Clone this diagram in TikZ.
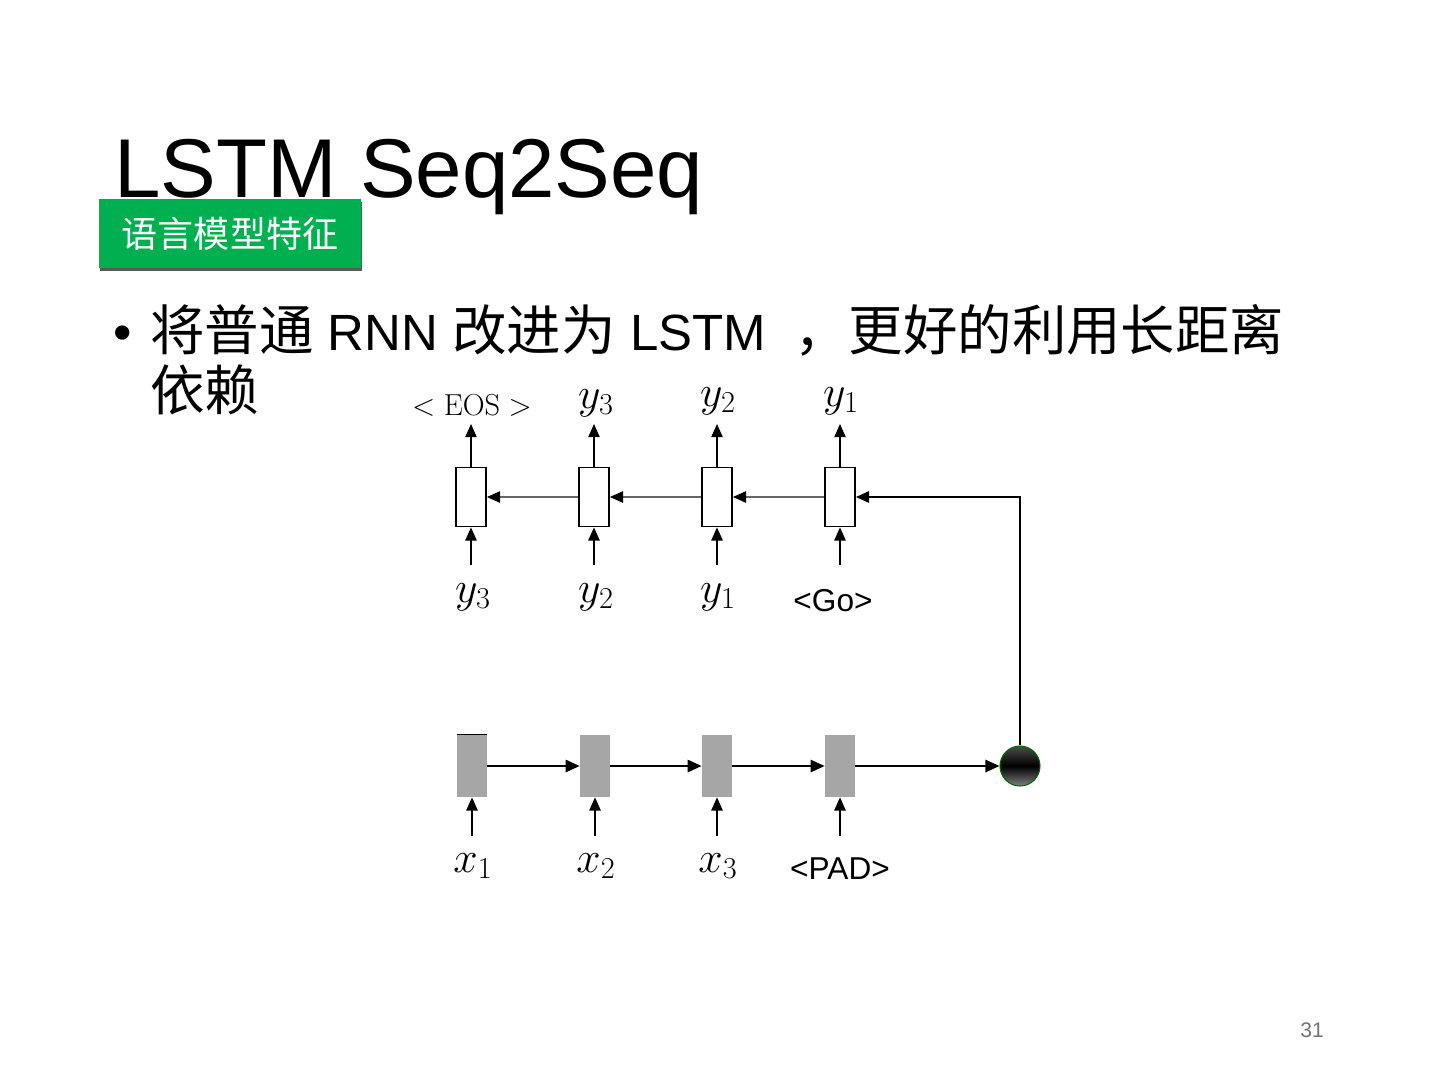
\documentclass[tikz,border=0pt]{standalone}
\usepackage[no-math]{fontspec}
\setmainfont{Liberation Sans}
\newfontfamily\cjk{Noto Sans CJK SC}
\usetikzlibrary{arrows.meta,shadows}
\definecolor{taggreen}{RGB}{0,176,80}
\definecolor{encgray}{RGB}{166,166,166}
\tikzset{
  arr/.style={line width=0.7pt,-{Triangle[length=7.5pt,width=6.5pt]}},
  garr/.style={line width=0.6pt,draw=black!60,-{Triangle[length=7.5pt,width=6.5pt,color=black]}},
  earr/.style={line width=1.1pt,-{Triangle[length=8pt,width=7pt]}},
  decbox/.style={draw,line width=1pt,fill=white,minimum width=0.6cm,minimum height=1.18cm,inner sep=0pt},
  encbox/.style={fill=encgray,minimum width=0.6cm,minimum height=1.24cm,inner sep=0pt},
  lbl/.style={font=\fontsize{18}{20}\selectfont,inner sep=0pt},
  mlbl/.style={font=\fontsize{23}{26}\selectfont,inner sep=0pt},
}
\begin{document}
\begin{tikzpicture}[x=0.02cm,y=-0.02cm]
\useasboundingbox (0,0) rectangle (1440,1080);
% title
\node[anchor=base west,inner sep=0pt,font=\fontsize{47.5}{55}\selectfont] (title) at (114,197) {LSTM Seq2Seq};
% tag
\node[fill=taggreen,text=white,minimum width=5.24cm,minimum height=1.38cm,inner sep=0pt,
  drop shadow={shadow xshift=0.02cm,shadow yshift=-0.06cm,fill=black!65,opacity=1},
  font=\cjk\fontsize{20.5}{22}\selectfont] (tag) at (230,233.5) {语言模型特征};
% bullet text
\node[anchor=base west,inner sep=0pt,font=\fontsize{30}{34}\selectfont] (bul) at (113,350) {•};
\node[anchor=base west,inner sep=0pt,font=\fontsize{29}{34}\selectfont] (line1) at (150,350)
  {{\cjk\fontsize{31}{34}\selectfont 将普通} RNN {\cjk\fontsize{31}{34}\selectfont 改进为} LSTM \ {\cjk\fontsize{31}{34}\selectfont ，更好的利用长距离}};
\node[anchor=base west,inner sep=0pt,font=\cjk\fontsize{31}{34}\selectfont] (line2) at (150,410) {依赖};
% decoder
\node[decbox] (d1) at (471,497) {};
\node[decbox] (d2) at (594,497) {};
\node[decbox] (d3) at (717,497) {};
\node[decbox] (d4) at (840,497) {};
% decoder outputs
\node[lbl] (o1) at (472,406) {$<\mathrm{EOS}>$};
\node[mlbl] (o2) at (596,403) {$y_3$};
\node[mlbl] (o3) at (718,401) {$y_2$};
\node[mlbl] (o4) at (841,401) {$y_1$};
\coordinate (t1) at (471,424);
\coordinate (t2) at (594,424);
\coordinate (t3) at (717,424);
\coordinate (t4) at (840,424);
\draw[arr] (d1.north) -- (t1);
\draw[arr] (d2.north) -- (t2);
\draw[arr] (d3.north) -- (t3);
\draw[arr] (d4.north) -- (t4);
% decoder inputs
\node[mlbl] (i1) at (473,597) {$y_3$};
\node[mlbl] (i2) at (596,597) {$y_2$};
\node[mlbl] (i3) at (718,597) {$y_1$};
\node[lbl] (i4) at (833,601) {<Go>};
\coordinate (s1) at (471,565);
\coordinate (s2) at (594,565);
\coordinate (s3) at (717,565);
\coordinate (s4) at (840,565);
\draw[arr] (s1) -- (d1.south);
\draw[arr] (s2) -- (d2.south);
\draw[arr] (s3) -- (d3.south);
\draw[arr] (s4) -- (d4.south);
% decoder recurrence
\draw[garr] (d2.west) -- (d1.east);
\draw[garr] (d3.west) -- (d2.east);
\draw[garr] (d4.west) -- (d3.east);
% encoder
\node[encbox] (e1) at (472,766) {};
\node[encbox] (e2) at (595,766) {};
\node[encbox] (e3) at (717,766) {};
\node[encbox] (e4) at (840,766) {};
\draw[line width=0.8pt] (e1.north west) -- (e1.north east);
\node[circle,minimum size=0.8cm,inner sep=0pt,draw=green!40!black,line width=0.6pt,
  top color=black!70,bottom color=black!50,middle color=black] (c) at (1020,766) {};
\draw[earr] (e1.east) -- (e2.west);
\draw[earr] (e2.east) -- (e3.west);
\draw[earr] (e3.east) -- (e4.west);
\draw[earr] (e4.east) -- (c.west);
% encoder inputs
\node[mlbl] (x1) at (473,866) {$x_1$};
\node[mlbl] (x2) at (596,866) {$x_2$};
\node[mlbl] (x3) at (718,866) {$x_3$};
\node[lbl] (x4) at (840,869) {<PAD>};
\coordinate (u1) at (472,836);
\coordinate (u2) at (595,836);
\coordinate (u3) at (717,836);
\coordinate (u4) at (840,836);
\draw[arr] (u1) -- (e1.south);
\draw[arr] (u2) -- (e2.south);
\draw[arr] (u3) -- (e3.south);
\draw[arr] (u4) -- (e4.south);
% context feedback
\draw[arr,line width=0.9pt] (c.north) |- (d4.east);
% page number
\node[font=\fontsize{12}{14}\selectfont,text=black!55] (pg) at (1312,1030) {31};
\end{tikzpicture}
\end{document}
